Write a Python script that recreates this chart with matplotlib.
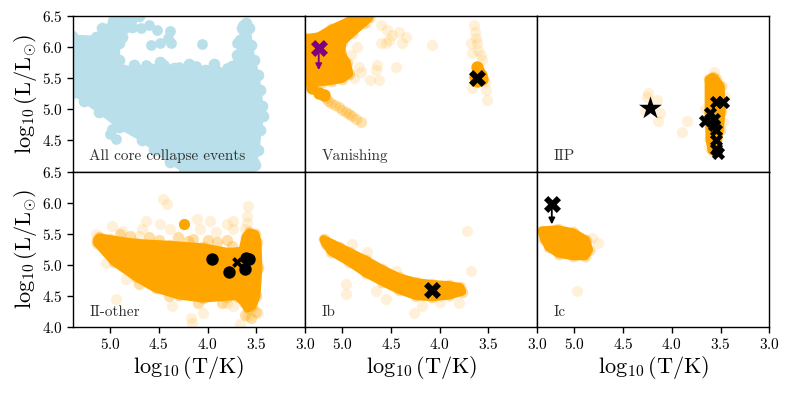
import numpy as np
import matplotlib
matplotlib.use("Agg")
import matplotlib.pyplot as plt

plt.rcParams["font.family"] = "serif"
plt.rcParams["font.serif"] = ["cmr10", "DejaVu Serif"]
plt.rcParams["mathtext.fontset"] = "cm"
plt.rcParams["axes.formatter.use_mathtext"] = True
plt.rcParams["axes.linewidth"] = 1.0

ORANGE = "#ffa500"
BLUE = "#b9dfea"

# ---------------- all core collapse events (blue cloud) ----------------
all_T = [5.39, 5.14, 5.08, 4.97, 4.84, 4.70, 4.77, 4.88, 4.91, 4.91, 4.86, 4.75, 4.60, 4.49, 4.34,
         4.19, 4.03, 3.93, 3.82, 3.75, 3.70, 3.67, 3.65, 3.61, 3.57, 3.55, 3.52, 3.48, 3.46, 3.44,
         3.43, 3.46, 3.48, 3.51, 3.57, 4.24, 4.39, 4.55, 4.67, 4.91, 5.11, 5.27, 5.39]
all_L = [6.18, 6.16, 6.30, 6.42, 6.50, 6.50, 6.32, 6.16, 6.06, 5.80, 5.63, 5.71, 5.66, 5.76, 5.66,
         5.73, 5.63, 5.73, 5.60, 5.69, 5.87, 6.11, 6.31, 6.39, 6.31, 6.03, 5.79, 5.55, 5.31, 5.06,
         4.90, 4.66, 4.34, 4.10, 4.00, 4.00, 4.15, 4.34, 4.50, 4.71, 4.95, 5.13, 5.26]
all_pt_T = [4.60, 4.52, 4.39, 4.41, 4.58, 4.49, 4.37, 4.06, 4.68, 4.63, 4.49, 4.29, 4.01, 3.80,
            3.70, 3.64, 4.88, 4.98, 4.94, 5.00, 4.19, 4.13, 3.70, 3.52, 4.29, 4.12, 4.45]
all_pt_L = [6.35, 6.27, 6.26, 6.15, 6.03, 6.06, 6.06, 6.05, 6.31, 5.71, 5.68, 5.68, 5.63, 5.66,
            6.06, 6.35, 5.63, 4.69, 4.53, 4.61, 4.15, 4.07, 4.05, 4.15, 5.62, 5.70, 5.72]

# ---------------- Vanishing ----------------
van_T = [5.38, 5.24, 5.11, 4.93, 4.81, 4.72, 4.78, 4.90, 5.00, 5.01, 4.95, 4.93, 5.00, 5.11, 5.21, 5.31, 5.38]
van_L = [6.14, 6.17, 6.29, 6.42, 6.48, 6.48, 6.39, 6.23, 6.08, 5.90, 5.74, 5.57, 5.49, 5.46, 5.44, 5.42, 5.44]
van_solid_T = [5.31, 5.24, 5.19, 3.64, 3.58, 3.57, 3.62, 3.60, 3.62]
van_solid_L = [5.34, 5.26, 5.23, 5.52, 5.55, 5.48, 5.45, 5.60, 5.68]
van_band_T = [5.17, 5.14, 5.11, 5.07, 5.03, 5.00, 4.96, 4.93, 4.90, 4.86, 4.81]
van_band_L = [5.18, 5.14, 5.10, 5.07, 5.03, 4.99, 4.95, 4.93, 4.90, 4.85, 4.79]
van_faint_T = [4.60, 4.54, 4.42, 4.39, 4.52, 4.60, 4.55, 4.08, 4.83, 4.64, 4.45, 4.71, 4.62, 4.65,
               4.81, 4.91, 4.93, 4.35, 4.49, 4.75, 4.85, 4.95, 4.88,
               3.65, 3.64, 3.63, 3.62, 3.61, 3.58, 3.57, 3.67, 3.68, 3.52, 3.51, 3.67, 3.54]
van_faint_L = [6.35, 6.27, 6.24, 6.06, 6.11, 6.06, 6.06, 6.03, 5.68, 5.71, 5.68, 5.47, 5.47, 5.63,
               5.60, 5.87, 5.58, 6.16, 6.19, 6.40, 6.00, 5.65, 5.50,
               6.35, 6.24, 6.15, 6.06, 5.95, 5.87, 5.79, 5.90, 6.06, 5.31, 5.15, 5.34, 5.44]
van_obs_T, van_obs_L = [3.62], [5.50]
van_lim_T, van_lim_L, van_lim_tip = [5.24], [5.98], [5.63]

# ---------------- IIP ----------------
iip_T = [3.62, 3.58, 3.55, 3.50, 3.49, 3.51, 3.54, 3.59, 3.61, 3.62]
iip_L = [5.48, 5.52, 5.48, 5.37, 4.98, 4.66, 4.36, 4.34, 4.52, 4.98]
iip_faint_T = [4.24, 4.25, 4.15, 4.12, 4.14, 3.84, 3.89, 4.27, 3.66, 3.45, 3.47, 3.62, 3.57]
iip_faint_L = [5.27, 5.19, 5.15, 4.94, 4.82, 4.82, 4.63, 4.98, 5.00, 5.20, 4.80, 4.40, 5.60]
iip_star_T, iip_star_L = [4.22], [5.02]
iip_obs_T = [3.55, 3.47, 3.61, 3.66, 3.57, 3.57, 3.55, 3.55, 3.55, 3.53]
iip_obs_L = [5.11, 5.11, 4.94, 4.82, 4.85, 4.74, 4.66, 4.50, 4.37, 4.29]

# ---------------- II-other ----------------
iio_T = [5.13, 4.96, 4.73, 4.53, 4.29, 4.05, 3.80, 3.70, 3.63, 3.59, 3.54, 3.50, 3.48, 3.49,
         3.51, 3.57, 3.61, 3.64, 3.77, 4.05, 4.39, 4.73, 5.00, 5.11, 5.13]
iio_L = [5.35, 5.05, 4.80, 4.62, 4.51, 4.46, 4.49, 4.50, 4.40, 4.30, 4.34, 4.50, 4.95, 5.37,
         5.49, 5.52, 5.44, 5.23, 5.20, 5.28, 5.32, 5.35, 5.41, 5.44, 5.40]
iio_mid_T = [4.90, 4.60, 4.30, 4.00, 3.80, 3.75, 4.50, 4.20, 4.70, 4.40, 4.10, 3.85, 3.62, 3.55, 3.50,
             4.80, 4.15, 3.90]
iio_mid_L = [5.50, 5.45, 5.45, 5.40, 5.40, 5.30, 5.40, 5.38, 4.70, 4.50, 4.38, 4.38, 4.20, 4.15, 4.25,
             5.46, 5.42, 5.36]
iio_faint_T = [4.46, 4.42, 3.59, 3.60, 3.60, 3.62, 3.74, 3.80, 3.98, 4.11, 4.49, 4.63, 4.98, 4.88,
               4.67, 4.94, 4.17, 4.16, 3.67, 3.59, 3.48, 3.48, 4.84, 4.60, 3.80, 4.36, 4.05, 3.74,
               3.55, 5.14, 5.08, 5.04, 4.70, 4.39, 4.08, 3.91, 3.74]
iio_faint_L = [6.06, 5.98, 5.95, 5.79, 5.68, 5.58, 5.71, 5.66, 5.71, 5.74, 5.66, 5.71, 5.63, 5.55,
               5.58, 4.45, 4.15, 4.06, 4.05, 4.18, 4.98, 4.22, 4.77, 4.69, 4.39, 4.34, 4.23, 4.34,
               4.45, 5.50, 5.31, 5.03, 5.47, 5.58, 5.58, 5.52, 5.58]
iio_solid_T, iio_solid_L = [4.24], [5.65]
iio_obs_T = [3.95, 3.78, 3.62, 3.61, 3.57]
iio_obs_L = [5.10, 4.89, 4.94, 5.11, 5.09]
iio_x_T, iio_x_L = [3.70], [5.05]

# ---------------- Ib ----------------
ib_T = [5.19, 5.03, 4.93, 4.76, 4.59, 4.42, 4.24, 4.08, 3.90, 3.79, 3.77, 3.90, 4.08, 4.24, 4.42,
        4.59, 4.76, 4.93, 5.11, 5.17]
ib_L = [5.41, 5.29, 5.21, 5.08, 4.93, 4.80, 4.72, 4.69, 4.67, 4.64, 4.57, 4.51, 4.48, 4.50, 4.60,
        4.73, 4.87, 5.05, 5.21, 5.34]
ib_faint_T = [3.72, 3.68, 4.96, 4.96, 4.26, 4.65, 4.55, 4.18, 3.80, 4.90, 4.75, 4.45, 4.00]
ib_faint_L = [5.55, 4.90, 4.69, 4.53, 4.23, 4.58, 4.45, 4.34, 4.39, 5.34, 5.20, 4.90, 4.40]
ib_obs_T, ib_obs_L = [4.08], [4.60]

# ---------------- Ic ----------------
ic_T = [5.33, 5.17, 5.01, 4.88, 4.85, 4.89, 5.01, 5.16, 5.26, 5.31]
ic_L = [5.55, 5.57, 5.52, 5.40, 5.24, 5.14, 5.14, 5.18, 5.28, 5.42]
ic_faint_T = [4.97, 4.76, 4.82, 5.38]
ic_faint_L = [4.58, 5.35, 5.43, 5.52]
ic_lim_T, ic_lim_L, ic_lim_tip = [5.23], [5.98], [5.65]

labels = ["All core collapse events", "Vanishing", "IIP", "II-other", "Ib", "Ic"]

fig, axes = plt.subplots(2, 3, figsize=(7.89, 3.95), dpi=100,
                         gridspec_kw=dict(hspace=0, wspace=0))
fig.subplots_adjust(left=0.0925, right=0.975, top=0.9595, bottom=0.172)


def cloud(ax, T, L, color=ORANGE, edge_alpha=0.35, lw=6):
    ax.fill(T, L, facecolor=color, edgecolor=color, lw=lw, joinstyle="round", zorder=2)
    ax.scatter(T, L, s=70, color=color, alpha=edge_alpha, lw=0, zorder=2)


def faint(ax, T, L, alpha=0.15):
    ax.scatter(T, L, s=65, color=ORANGE, alpha=alpha, lw=0, zorder=1)


def limit(ax, T, L, tip, color):
    ax.scatter(T, L, marker="X", s=150, color=color, lw=0, zorder=6)
    for t, l, e in zip(T, L, tip):
        ax.annotate("", xy=(t, e), xytext=(t, l),
                    arrowprops=dict(arrowstyle="-|>", color=color, lw=1.3,
                                    mutation_scale=9, shrinkA=0, shrinkB=0), zorder=5)


ax = axes[0, 0]
cloud(ax, all_T, all_L, color=BLUE, edge_alpha=1.0, lw=2)
ax.scatter(all_pt_T, all_pt_L, s=60, color=BLUE, lw=0, zorder=2)

ax = axes[0, 1]
cloud(ax, van_T, van_L)
ax.scatter(van_solid_T, van_solid_L, s=80, color=ORANGE, lw=0, zorder=2)
faint(ax, van_band_T, van_band_L, alpha=0.3)
faint(ax, van_faint_T, van_faint_L)
ax.scatter(van_obs_T, van_obs_L, marker="X", s=150, color="black", lw=0, zorder=6)
limit(ax, van_lim_T, van_lim_L, van_lim_tip, "purple")

ax = axes[0, 2]
cloud(ax, iip_T, iip_L)
faint(ax, iip_faint_T, iip_faint_L)
ax.scatter(iip_star_T, iip_star_L, marker="*", s=300, color="black", lw=0, zorder=6)
ax.scatter(iip_obs_T, iip_obs_L, marker="X", s=90, color="black", lw=0, zorder=6)

ax = axes[1, 0]
faint(ax, iio_mid_T, iio_mid_L, alpha=0.35)
cloud(ax, iio_T, iio_L)
faint(ax, iio_faint_T, iio_faint_L)
ax.scatter(iio_solid_T, iio_solid_L, s=65, color=ORANGE, lw=0, zorder=2)
ax.scatter(iio_obs_T, iio_obs_L, marker="o", s=80, color="black", lw=0, zorder=6)
ax.scatter(iio_x_T, iio_x_L, marker="X", s=60, color="black", lw=0, zorder=6)

ax = axes[1, 1]
cloud(ax, ib_T, ib_L)
faint(ax, ib_faint_T, ib_faint_L)
ax.scatter(ib_obs_T, ib_obs_L, marker="X", s=150, color="black", lw=0, zorder=6)

ax = axes[1, 2]
cloud(ax, ic_T, ic_L)
faint(ax, ic_faint_T, ic_faint_L)
limit(ax, ic_lim_T, ic_lim_L, ic_lim_tip, "black")

for i, ax in enumerate(axes.flat):
    row, col = divmod(i, 3)
    ax.set_xlim(5.38, 3.0)
    ax.set_ylim(4.0, 6.5)
    ax.set_xticks([5.0, 4.5, 4.0, 3.5, 3.0])
    ax.set_yticks([4.5, 5.0, 5.5, 6.0, 6.5] if row == 0 else [4.0, 4.5, 5.0, 5.5, 6.0, 6.5])
    ax.tick_params(labelsize=11, length=4, width=1.0, direction="out",
                   bottom=(row == 1), labelbottom=(row == 1),
                   left=(col == 0), labelleft=(col == 0))
    ax.text(0.07, 0.055, labels[i], transform=ax.transAxes, fontsize=11,
            color="0.2", va="bottom", ha="left")
    if col == 0:
        ax.set_ylabel(r"$\log_{10}(\mathrm{L/L_{\odot}})$", fontsize=16, labelpad=2)
    if row == 1:
        ax.set_xlabel(r"$\log_{10}(\mathrm{T/K})$", fontsize=16, labelpad=1)

fig.savefig("out.png", dpi=100)
